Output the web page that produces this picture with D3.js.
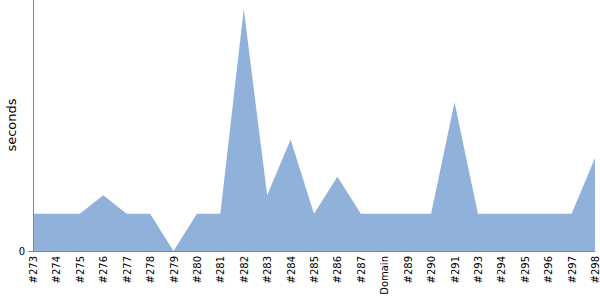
<!DOCTYPE html>
<html>
<head>
<meta charset="utf-8">
<script src="https://cdn.jsdelivr.net/npm/d3@7"></script>
<style>
  body { margin: 0; background: #fff; }
</style>
</head>
<body>
<script>
// donnees du graphe
var builds = ["#273", "#274", "#275", "#276", "#277", "#278", "#279", "#280", "#281", "#282",
    "#283", "#284", "#285", "#286", "#287", "Domain", "#289", "#290", "#291", "#293",
    "#294", "#295", "#296", "#297", "#298"];
var seconds = [2, 2, 2, 3, 2, 2, 0, 2, 2, 13,
    3, 6, 2, 4, 2, 2, 2, 2, 8, 2,
    2, 2, 2, 2, 5];
var yTicks = [0];

var width = 600;
var height = 300;
var mLeft = 33, mRight = 595, mBottom = 251, mTop = 0;
var police = "'DejaVu Sans'";

var svg = d3.select("body")
    .append("svg")
    .attr("width", width)
    .attr("height", height);

var xscale = d3.scalePoint()
    .domain(builds)
    .range([mLeft, mRight]);

var yscale = d3.scaleLinear()
    .domain([0, 13.5])
    .range([mBottom, mTop]);

// aire
var area = d3.area()
    .x(function (d, i) { return xscale(builds[i]); })
    .y0(mBottom)
    .y1(function (d) { return yscale(d); });

svg.append("path")
    .datum(seconds)
    .attr("d", area)
    .style("fill", "#8fb1da");

// axe y
var y_axis = d3.axisLeft(yscale).tickValues(yTicks).tickSize(5).tickSizeOuter(0);
var gy = svg.append("g")
    .attr("transform", "translate(" + mLeft + ",0)")
    .call(y_axis);
gy.select(".domain").attr("stroke", "#888").attr("d", "M0.5," + mTop + "V" + (mBottom + 0.5));
gy.selectAll(".tick line").attr("stroke", "#888");
gy.selectAll(".tick text").style("font-family", police).style("font-size", "10px").attr("fill", "#000");

// axe x
var x_axis = d3.axisBottom(xscale).tickSize(0).tickSizeOuter(0);
var gx = svg.append("g")
    .attr("transform", "translate(0," + mBottom + ")")
    .call(x_axis);
gx.select(".domain").attr("stroke", "#888").attr("d", "M" + mLeft + ",0.5H" + mRight);
gx.selectAll(".tick text")
    .style("font-family", police)
    .style("font-size", "10px")
    .attr("fill", "#000")
    .attr("text-anchor", "end")
    .attr("transform", "rotate(-90)")
    .attr("x", -5)
    .attr("y", 0)
    .attr("dy", "0.35em");

// titre axe y
svg.append("text")
    .attr("transform", "translate(15.5,125) rotate(-90)")
    .attr("text-anchor", "middle")
    .style("font-family", police)
    .style("font-size", "13px")
    .attr("fill", "#000")
    .text("seconds");
</script>
</body>
</html>
